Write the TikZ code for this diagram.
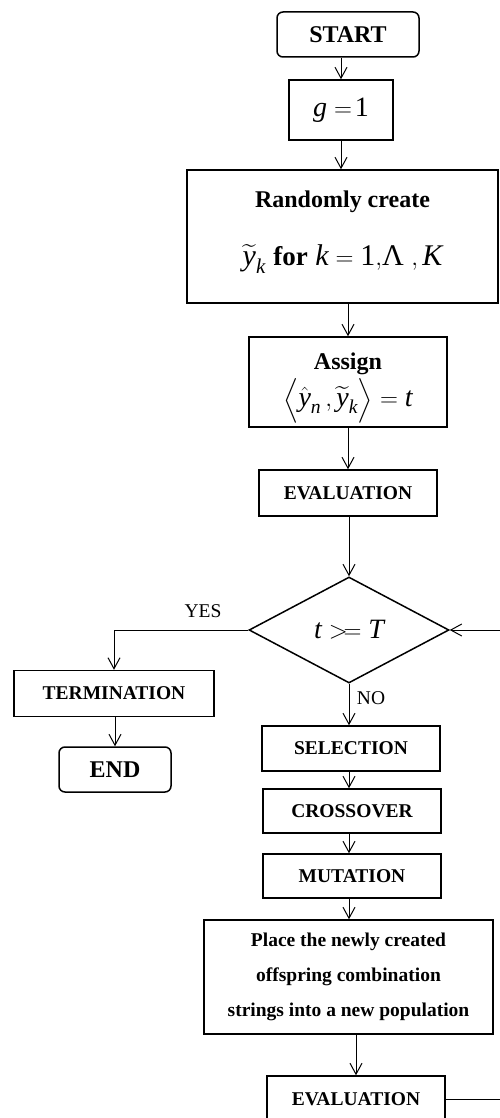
\documentclass[tikz,border=0pt]{standalone}
\usepackage{amsmath}
\usepackage{fontspec}
\setmainfont{Liberation Serif}
\usetikzlibrary{arrows.meta,shapes.geometric}
\newcommand{\vi}[1]{\text{\itshape #1}}
\newcommand{\vu}[1]{\text{\upshape #1}}
\tikzset{
  box/.style={draw, line width=1.5pt, inner sep=0pt, align=center},
  rbox/.style={box, rounded corners=6pt},
  arr/.style={line width=1pt, -{Straight Barb[length=11pt,width=12pt,line width=1pt]}},
  big/.style={font=\fontsize{24}{28}\selectfont\bfseries},
  small/.style={font=\fontsize{19.5}{23}\selectfont\bfseries},
  lbl/.style={font=\fontsize{19.5}{23}\selectfont},
}
\begin{document}
\begin{tikzpicture}[x=1pt,y=-1pt]
\useasboundingbox (0,0) rectangle (500,1118);

\node[rbox, big, minimum width=142pt, minimum height=45pt] (start) at (348,34.5) {START};
\node[box, minimum width=104pt, minimum height=60pt, font=\fontsize{28}{32}\selectfont] (g) at (341,110) {$\vi{g} =\! \vu{1}$};
\node[box, minimum width=311pt, minimum height=133pt, font=\fontsize{24}{28}\selectfont] (rand) at (342.5,236.5)
  {\textbf{Randomly create}\\[30pt]{\fontsize{30}{34}\selectfont$\widetilde{\vi{y}}_{\vi{k}}$ {\fontsize{27}{30}\selectfont\bfseries for} $\vi{k} = \vu{1},$Λ\ $,\vi{K}$\rule[-16pt]{0pt}{16pt}}};
\node[box, minimum width=198pt, minimum height=90pt, font=\fontsize{24}{28}\selectfont] (assign) at (348,382)
  {\rule{0pt}{29pt}\textbf{Assign}\\[2pt]{\fontsize{28}{32}\selectfont$\Bigl\langle \hat{\vi{y}}_{\vi{n}}\, , \widetilde{\vi{y}}_{\vi{k}} \Bigr\rangle = \vi{t}$}};
\node[box, small, minimum width=178pt, minimum height=46pt] (eval1) at (348,493) {EVALUATION};
\node[draw, diamond, aspect=2, line width=1.5pt, inner sep=0pt, minimum width=200pt, minimum height=106pt,
  font=\fontsize{28}{32}\selectfont] (dec) at (349,630) {$\vi{t} \mathrel{>\!=} \vi{T}$};
\node[box, small, minimum width=200pt, minimum height=46pt] (term) at (114,693.5) {TERMINATION};
\node[rbox, big, minimum width=112pt, minimum height=45pt] (end) at (115,769.5) {END};
\node[box, small, minimum width=178pt, minimum height=45pt] (sel) at (351,748.5) {SELECTION};
\node[box, small, minimum width=178pt, minimum height=44pt] (cross) at (352,811) {CROSSOVER};
\node[box, small, minimum width=178pt, minimum height=44pt] (mut) at (352,876) {MUTATION};
\node[box, font=\fontsize{19.5}{35}\selectfont\bfseries, minimum width=289pt, minimum height=114pt] (place) at (348.5,977)
  {Place the newly created\\offspring combination\\strings into a new population};
\node[box, small, minimum width=178pt, minimum height=52pt, text depth=6pt, text height=13pt] (eval2) at (356,1102) {EVALUATION};
\coordinate (loop) at (520,1099);

\draw[arr] (g.north |- start.south) -- (g.north);
\draw[arr] (g.south) -- (g.south |- rand.north);
\draw[arr] (assign.north |- rand.south) -- (assign.north);
\draw[arr] (assign.south) -- (assign.south |- eval1.north);
\draw[arr] (dec.north |- eval1.south) -- (dec.north);
\draw[arr] (dec.west) -- (term.north |- dec.west) -- (term.north);
\draw[arr] (end.north |- term.south) -- (end.north);
\draw[arr] (dec.south) -- (dec.south |- sel.north);
\draw[arr] (sel.south -| dec.south) -- (cross.north -| dec.south);
\draw[arr] (cross.south -| dec.south) -- (mut.north -| dec.south);
\draw[arr] (mut.south -| dec.south) -- (place.north -| dec.south);
\draw[arr] (eval2.north |- place.south) -- (eval2.north);
\draw[arr] (eval2.east |- loop) -- (loop) -- (loop |- dec.east) -- (dec.east);

\node[lbl] (yes) at (203,611) {YES};
\node[lbl] (no) at (371,698) {NO};
\end{tikzpicture}
\end{document}
